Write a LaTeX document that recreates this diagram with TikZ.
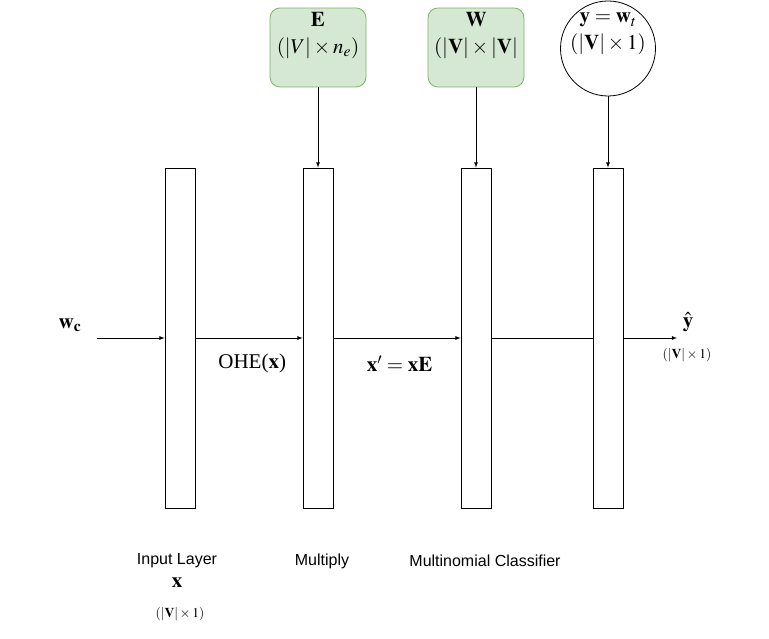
\documentclass[tikz,border=0pt]{standalone}
\usepackage{amsmath}
\usepackage{mathptmx}
\usepackage{fontspec}
\setmainfont{Liberation Serif}
\newfontfamily\labelfont{Liberation Sans}
\usetikzlibrary{arrows,positioning,shapes}

\definecolor{boxfill}{HTML}{D5E8D4}
\definecolor{boxline}{HTML}{82B366}

\tikzset{
  layer/.style={draw, line width=0.8pt, minimum width=30pt, minimum height=340pt, inner sep=0pt},
  greenbox/.style={draw=boxline, fill=boxfill, line width=0.8pt, rounded corners=10pt, minimum width=96pt, minimum height=79pt},
  targetcirc/.style={draw, circle, line width=0.8pt, minimum size=95pt, inner sep=0pt},
  caption/.style={font=\labelfont\fontsize{16}{19}\selectfont},
  mathlab/.style={font=\fontsize{21}{27}\selectfont, align=center},
  dimlab/.style={font=\fontsize{13.5}{16}\selectfont}
}

\begin{document}
\begin{tikzpicture}[x=1pt,y=1pt,>=latex,node distance=138pt,on grid]
   \useasboundingbox (0,0) rectangle (769,639);
   % layers
   \node[layer] (inp) at (180,301) {};
   \node[layer] (mult) [right=138pt of inp] {};
   \node[layer] (cls) [right=158pt of mult] {};
   \node[layer] (outl) [right=132pt of cls] {};
   % parameter blocks
   \node[greenbox] (embed) at (318,591.5) {};
   \node[greenbox] (weight) at (476,591.5) {};
   \node[targetcirc] (target) at (608,590.5) {};
   \node[mathlab, below=1pt of embed.north, anchor=north] (embedtxt) {$\mathbf{E}$\\$(|V| \times n_e)$};
   \node[mathlab, below=1pt of weight.north, anchor=north] (weighttxt) {$\mathbf{W}$\\$(|\mathbf{V}| \times |\mathbf{V}|$};
   \node[mathlab, below=9pt of target.north, anchor=north] (targettxt) {$\mathbf{y} = \mathbf{w}_t$\\$(|\mathbf{V}| \times 1)$};
   % free ends
   \coordinate (in) at (97,301);
   \coordinate (out) at (677,301);
   \node[mathlab] (wc) at (70,314) {$\mathbf{w_c}$};
   \node[mathlab, inner sep=0pt] (yhat) at (688,317) {$\hat{\mathbf{y}}$};
   \node[dimlab, inner sep=1pt] (yhatdim) at (687,284) {$(|\mathbf{V}| \times 1)$};
   % connectors
   \draw[->, line width=0.8pt] (in) -- (inp);
   \draw[->, line width=0.8pt] (inp) -- node[mathlab, below=12pt, pos=0.53] (ohe) {OHE($\mathbf{x}$)} (mult);
   \draw[->, line width=0.8pt] (mult) -- node[mathlab, below=14pt, pos=0.52] (xprime) {$\mathbf{x}' = \mathbf{x}\mathbf{E}$} (cls);
   \draw[line width=0.8pt] (cls) -- (outl);
   \draw[->, line width=0.8pt] (outl) -- (out);
   \draw[->, line width=0.8pt] (embed) -- (mult);
   \draw[->, line width=0.8pt] (weight) -- (cls);
   \draw[->, line width=0.8pt] (target) -- (outl);
   % captions
   \node[caption] (inpcap) at (177,78) {Input Layer};
   \node[mathlab] (inpx) at (177,56) {$\mathbf{x}$};
   \node[dimlab] (inpdim) at (180,25) {$(|\mathbf{V}| \times 1)$};
   \node[caption] (multcap) at (322,78) {Multiply};
   \node[caption] (clscap) at (485,78) {Multinomial Classifier};
\end{tikzpicture}
\end{document}
